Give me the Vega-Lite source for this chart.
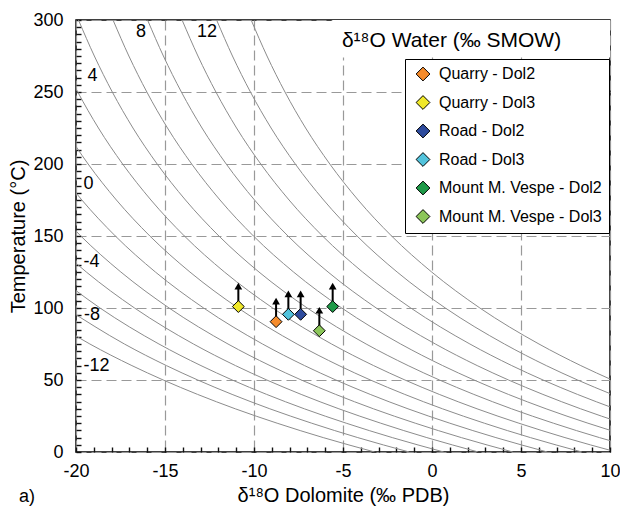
{
  "$schema": "https://vega.github.io/schema/vega-lite/v6.json",
  "width": 534,
  "height": 432,
  "autosize": "none",
  "padding": {"left": 76, "top": 20, "right": 10, "bottom": 58},
  "background": "white",
  "config": {
    "font": "Liberation Sans",
    "view": {"stroke": "black", "strokeWidth": 1.5},
    "legend": {
      "orient": "none", "legendX": 329, "legendY": 39,
      "strokeColor": "black", "fillColor": "white", "padding": 7,
      "rowPadding": 10.5, "labelOffset": 8, "symbolOffset": 3, "labelLimit": 300,
      "labelFont": "Liberation Sans", "labelFontSize": 16, "labelColor": "black",
      "symbolType": "diamond", "symbolSize": 190, "symbolStrokeColor": "black", "symbolStrokeWidth": 1
    }
  },
  "datasets": {
    "curves": [
      {"w":-12,"T":0,"d":-3.22},{"w":-12,"T":10,"d":-6.11},{"w":-12,"T":20,"d":-8.70},{"w":-12,"T":30,"d":-11.05},{"w":-12,"T":40,"d":-13.17},{"w":-12,"T":50,"d":-15.10},{"w":-12,"T":60,"d":-16.86},{"w":-12,"T":75,"d":-19.22},{"w":-12,"T":100,"d":-22.53},
      {"w":-10,"T":0,"d":-1.28},{"w":-10,"T":10,"d":-4.17},{"w":-10,"T":20,"d":-6.76},{"w":-10,"T":30,"d":-9.11},{"w":-10,"T":40,"d":-11.23},{"w":-10,"T":50,"d":-13.16},{"w":-10,"T":60,"d":-14.92},{"w":-10,"T":75,"d":-17.28},{"w":-10,"T":100,"d":-20.59},
      {"w":-8,"T":0,"d":0.66},{"w":-8,"T":10,"d":-2.23},{"w":-8,"T":20,"d":-4.82},{"w":-8,"T":30,"d":-7.17},{"w":-8,"T":40,"d":-9.29},{"w":-8,"T":50,"d":-11.22},{"w":-8,"T":60,"d":-12.98},{"w":-8,"T":75,"d":-15.34},{"w":-8,"T":100,"d":-18.65},{"w":-8,"T":125,"d":-21.36},
      {"w":-6,"T":0,"d":2.60},{"w":-6,"T":10,"d":-0.29},{"w":-6,"T":20,"d":-2.88},{"w":-6,"T":30,"d":-5.23},{"w":-6,"T":40,"d":-7.35},{"w":-6,"T":50,"d":-9.28},{"w":-6,"T":60,"d":-11.04},{"w":-6,"T":75,"d":-13.40},{"w":-6,"T":100,"d":-16.71},{"w":-6,"T":125,"d":-19.42},{"w":-6,"T":150,"d":-21.67},
      {"w":-4,"T":0,"d":4.54},{"w":-4,"T":10,"d":1.65},{"w":-4,"T":20,"d":-0.94},{"w":-4,"T":30,"d":-3.29},{"w":-4,"T":40,"d":-5.41},{"w":-4,"T":50,"d":-7.34},{"w":-4,"T":60,"d":-9.10},{"w":-4,"T":75,"d":-11.46},{"w":-4,"T":100,"d":-14.77},{"w":-4,"T":125,"d":-17.48},{"w":-4,"T":150,"d":-19.73},{"w":-4,"T":175,"d":-21.61},
      {"w":-2,"T":0,"d":6.48},{"w":-2,"T":10,"d":3.59},{"w":-2,"T":20,"d":1.00},{"w":-2,"T":30,"d":-1.35},{"w":-2,"T":40,"d":-3.47},{"w":-2,"T":50,"d":-5.40},{"w":-2,"T":60,"d":-7.16},{"w":-2,"T":75,"d":-9.52},{"w":-2,"T":100,"d":-12.83},{"w":-2,"T":125,"d":-15.54},{"w":-2,"T":150,"d":-17.79},{"w":-2,"T":175,"d":-19.67},{"w":-2,"T":200,"d":-21.26},
      {"w":0,"T":0,"d":8.42},{"w":0,"T":10,"d":5.53},{"w":0,"T":20,"d":2.94},{"w":0,"T":30,"d":0.59},{"w":0,"T":40,"d":-1.53},{"w":0,"T":50,"d":-3.46},{"w":0,"T":60,"d":-5.22},{"w":0,"T":75,"d":-7.58},{"w":0,"T":100,"d":-10.89},{"w":0,"T":125,"d":-13.60},{"w":0,"T":150,"d":-15.85},{"w":0,"T":175,"d":-17.73},{"w":0,"T":200,"d":-19.32},{"w":0,"T":225,"d":-20.68},
      {"w":2,"T":0,"d":10.36},{"w":2,"T":10,"d":7.47},{"w":2,"T":20,"d":4.88},{"w":2,"T":30,"d":2.53},{"w":2,"T":40,"d":0.41},{"w":2,"T":50,"d":-1.52},{"w":2,"T":60,"d":-3.28},{"w":2,"T":75,"d":-5.64},{"w":2,"T":100,"d":-8.95},{"w":2,"T":125,"d":-11.66},{"w":2,"T":150,"d":-13.91},{"w":2,"T":175,"d":-15.79},{"w":2,"T":200,"d":-17.38},{"w":2,"T":225,"d":-18.74},{"w":2,"T":250,"d":-19.90},{"w":2,"T":275,"d":-20.91},
      {"w":4,"T":0,"d":12.30},{"w":4,"T":10,"d":9.41},{"w":4,"T":20,"d":6.82},{"w":4,"T":30,"d":4.47},{"w":4,"T":40,"d":2.35},{"w":4,"T":50,"d":0.42},{"w":4,"T":60,"d":-1.34},{"w":4,"T":75,"d":-3.70},{"w":4,"T":100,"d":-7.01},{"w":4,"T":125,"d":-9.72},{"w":4,"T":150,"d":-11.97},{"w":4,"T":175,"d":-13.85},{"w":4,"T":200,"d":-15.44},{"w":4,"T":225,"d":-16.80},{"w":4,"T":250,"d":-17.96},{"w":4,"T":275,"d":-18.97},{"w":4,"T":300,"d":-19.86},
      {"w":6,"T":10,"d":11.35},{"w":6,"T":20,"d":8.76},{"w":6,"T":30,"d":6.41},{"w":6,"T":40,"d":4.29},{"w":6,"T":50,"d":2.36},{"w":6,"T":60,"d":0.60},{"w":6,"T":75,"d":-1.76},{"w":6,"T":100,"d":-5.07},{"w":6,"T":125,"d":-7.78},{"w":6,"T":150,"d":-10.03},{"w":6,"T":175,"d":-11.91},{"w":6,"T":200,"d":-13.50},{"w":6,"T":225,"d":-14.86},{"w":6,"T":250,"d":-16.02},{"w":6,"T":275,"d":-17.03},{"w":6,"T":300,"d":-17.92},
      {"w":8,"T":20,"d":10.70},{"w":8,"T":30,"d":8.35},{"w":8,"T":40,"d":6.23},{"w":8,"T":50,"d":4.30},{"w":8,"T":60,"d":2.54},{"w":8,"T":75,"d":0.19},{"w":8,"T":100,"d":-3.13},{"w":8,"T":125,"d":-5.84},{"w":8,"T":150,"d":-8.09},{"w":8,"T":175,"d":-9.97},{"w":8,"T":200,"d":-11.56},{"w":8,"T":225,"d":-12.92},{"w":8,"T":250,"d":-14.08},{"w":8,"T":275,"d":-15.09},{"w":8,"T":300,"d":-15.98},
      {"w":10,"T":30,"d":10.29},{"w":10,"T":40,"d":8.17},{"w":10,"T":50,"d":6.24},{"w":10,"T":60,"d":4.48},{"w":10,"T":75,"d":2.13},{"w":10,"T":100,"d":-1.19},{"w":10,"T":125,"d":-3.90},{"w":10,"T":150,"d":-6.15},{"w":10,"T":175,"d":-8.03},{"w":10,"T":200,"d":-9.62},{"w":10,"T":225,"d":-10.98},{"w":10,"T":250,"d":-12.14},{"w":10,"T":275,"d":-13.15},{"w":10,"T":300,"d":-14.04},
      {"w":12,"T":40,"d":10.11},{"w":12,"T":50,"d":8.18},{"w":12,"T":60,"d":6.42},{"w":12,"T":75,"d":4.07},{"w":12,"T":100,"d":0.75},{"w":12,"T":125,"d":-1.96},{"w":12,"T":150,"d":-4.21},{"w":12,"T":175,"d":-6.09},{"w":12,"T":200,"d":-7.68},{"w":12,"T":225,"d":-9.04},{"w":12,"T":250,"d":-10.20},{"w":12,"T":275,"d":-11.21},{"w":12,"T":300,"d":-12.10},
      {"w":14,"T":50,"d":10.12},{"w":14,"T":60,"d":8.36},{"w":14,"T":75,"d":6.01},{"w":14,"T":100,"d":2.69},{"w":14,"T":125,"d":-0.02},{"w":14,"T":150,"d":-2.27},{"w":14,"T":175,"d":-4.15},{"w":14,"T":200,"d":-5.74},{"w":14,"T":225,"d":-7.10},{"w":14,"T":250,"d":-8.26},{"w":14,"T":275,"d":-9.27},{"w":14,"T":300,"d":-10.16}
    ],
    "labels": [
      {"lab":"8","d":-16.35,"T":292},
      {"lab":"12","d":-12.64,"T":292},
      {"lab":"4","d":-19.07,"T":260.8},
      {"lab":"0","d":-19.3,"T":186.1},
      {"lab":"-4","d":-19.13,"T":131.9},
      {"lab":"-8","d":-19.1,"T":95.1},
      {"lab":"-12","d":-18.85,"T":59.4},
      {"lab":"a)","d":-22.75,"T":-31.25}
    ],
    "titlebox": [
      {"d":-5.6,"d2":10,"T":274,"T2":300}
    ],
    "title": [
      {"txt":"δ¹⁸O Water (‰ SMOW)","d":-5.06,"T":281.5}
    ],
    "samples": [
      {"sample":"Quarry - Dol2","d":-8.76,"T":90.5},
      {"sample":"Quarry - Dol3","d":-10.88,"T":101},
      {"sample":"Road - Dol2","d":-7.38,"T":95.6},
      {"sample":"Road - Dol3","d":-8.07,"T":95.6},
      {"sample":"Mount M. Vespe - Dol2","d":-5.58,"T":101},
      {"sample":"Mount M. Vespe - Dol3","d":-6.33,"T":84.2}
    ]
  },
  "encoding": {
    "x": {
      "field": "d", "type": "quantitative",
      "scale": {"domain": [-20, 10], "nice": false, "zero": false},
      "axis": {
        "title": "δ¹⁸O Dolomite (‰ PDB)",
        "values": [-20,-19,-18,-17,-16,-15,-14,-13,-12,-11,-10,-9,-8,-7,-6,-5,-4,-3,-2,-1,0,1,2,3,4,5,6,7,8,9,10],
        "labelExpr": "datum.value % 5 === 0 ? '' + datum.value : ''",
        "labelFlush": false, "labelOverlap": false,
        "labelFont": "Liberation Sans", "labelFontSize": 18, "labelColor": "black", "labelPadding": 10,
        "offset": -5, "domain": false,
        "ticks": true, "tickSize": 5, "tickColor": "#111111", "tickWidth": 1.4,
        "grid": true, "gridColor": "#999999", "gridDash": [10, 5], "gridWidth": 1.2,
        "gridOpacity": {"condition": {"test": "datum.value % 5 === 0", "value": 1}, "value": 0},
        "titleFont": "Liberation Sans", "titleFontSize": 20, "titleFontWeight": "normal", "titleColor": "black", "titlePadding": 5
      }
    },
    "y": {
      "field": "T", "type": "quantitative",
      "scale": {"domain": [0, 300], "nice": false, "zero": false},
      "axis": {
        "title": "Temperature (°C)",
        "values": [0,5,10,15,20,25,30,35,40,45,50,55,60,65,70,75,80,85,90,95,100,105,110,115,120,125,130,135,140,145,150,155,160,165,170,175,180,185,190,195,200,205,210,215,220,225,230,235,240,245,250,255,260,265,270,275,280,285,290,295,300],
        "labelExpr": "datum.value % 50 === 0 ? '' + datum.value : ''",
        "labelFlush": false, "labelOverlap": false,
        "labelFont": "Liberation Sans", "labelFontSize": 18, "labelColor": "black", "labelPadding": 13,
        "offset": -5, "domain": false,
        "ticks": true, "tickSize": 5, "tickColor": "#111111", "tickWidth": 1.4,
        "grid": true, "gridColor": "#999999", "gridDash": [10, 5], "gridWidth": 1.2,
        "gridOpacity": {"condition": {"test": "datum.value % 50 === 0", "value": 1}, "value": 0},
        "titleFont": "Liberation Sans", "titleFontSize": 20, "titleFontWeight": "normal", "titleColor": "black", "titlePadding": 4
      }
    }
  },
  "layer": [
    {
      "data": {"name": "curves"},
      "mark": {"type": "line", "color": "#8c8c8c", "strokeWidth": 1, "clip": true, "interpolate": "monotone"},
      "encoding": {
        "detail": {"field": "w", "type": "nominal"}
      }
    },
    {
      "data": {"name": "titlebox"},
      "mark": {"type": "rect", "color": "white"},
      "encoding": {
        "x2": {"field": "d2"},
        "y2": {"field": "T2"}
      }
    },
    {
      "data": {"name": "title"},
      "mark": {"type": "text", "align": "left", "baseline": "alphabetic", "font": "Liberation Sans", "fontSize": 21, "color": "black"},
      "encoding": {
        "text": {"field": "txt"}
      }
    },
    {
      "data": {"name": "labels"},
      "mark": {"type": "text", "align": "center", "baseline": "middle", "font": "Liberation Sans", "fontSize": 18, "color": "black"},
      "encoding": {
        "text": {"field": "lab"}
      }
    },
    {
      "data": {"name": "samples"},
      "mark": {"type": "rule", "color": "black", "strokeWidth": 2, "y2Offset": -20},
      "encoding": {
        "y2": {"field": "T"}
      }
    },
    {
      "data": {"name": "samples"},
      "mark": {"type": "point", "shape": "triangle-up", "filled": true, "color": "black", "size": 60, "opacity": 1, "yOffset": -20.5},
      "encoding": {}
    },
    {
      "data": {"name": "samples"},
      "mark": {"type": "point", "shape": "diamond", "filled": true, "size": 140, "stroke": "black", "strokeWidth": 1, "opacity": 1},
      "encoding": {
        "color": {
          "field": "sample", "type": "nominal",
          "scale": {
            "domain": ["Quarry - Dol2", "Quarry - Dol3", "Road - Dol2", "Road - Dol3", "Mount M. Vespe - Dol2", "Mount M. Vespe - Dol3"],
            "range": ["#f58b2b", "#f0e82a", "#2e4b9d", "#52c3dc", "#1f9a48", "#8cc65a"]
          },
          "legend": {"title": null}
        }
      }
    }
  ]
}
